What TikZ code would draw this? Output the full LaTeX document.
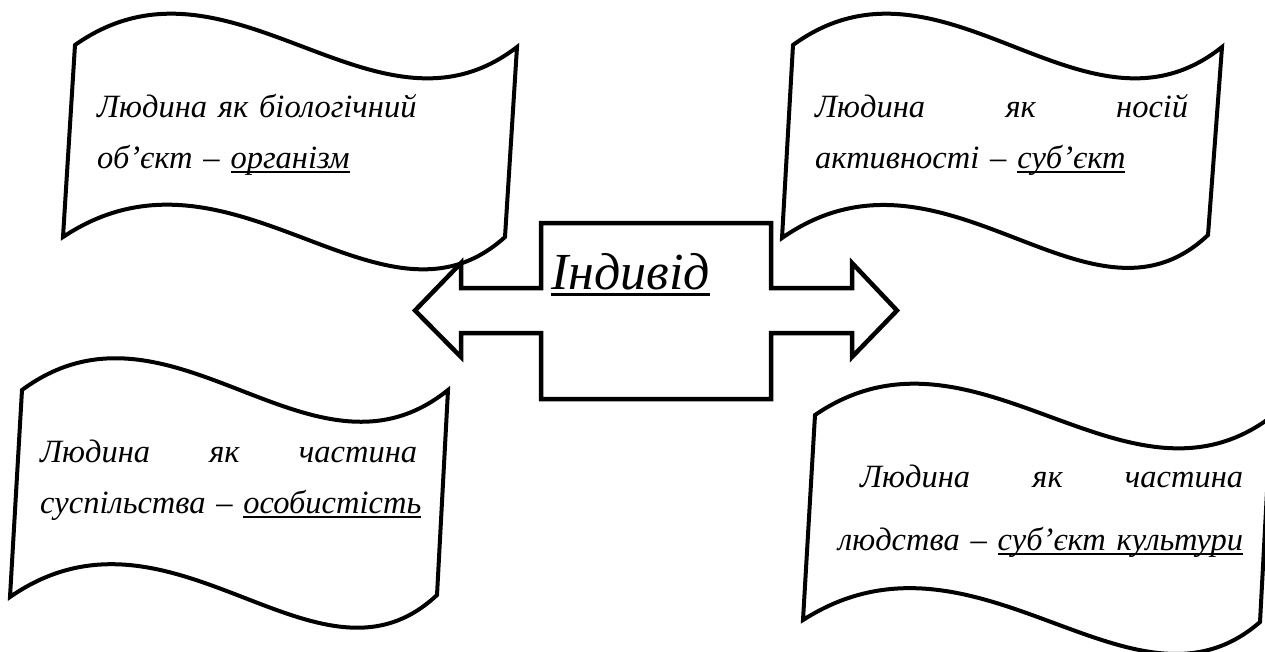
\documentclass[tikz,border=0pt]{standalone}
\usepackage{fontspec}
\setmainfont{Liberation Serif}
\usepackage{tikz}
\usetikzlibrary{calc}
\usetikzlibrary{positioning}

\tikzset{
	outline/.style={draw, line width=4pt, line join=miter},
	arrowline/.style={draw, line width=4.5pt, line join=miter},
	flagtext/.style={anchor=base west, inner sep=0pt, align=left, font=\fontsize{32.5}{51}\selectfont\itshape},
}

% underline close to the baseline
\newcommand\undl[1]{{\setbox0=\hbox{#1}\rlap{\rule[-0.14em]{\wd0}{0.055em}}\box0}}

% wave flag from its corners: top left, top right, bottom right, bottom left
\newcommand\waveflag[4]{
	\draw[outline] (#1) .. controls ($(#1)!0.35!(#2)+(0,-110)$) and ($(#1)!0.68!(#2)+(0,110)$) .. (#2)
		-- (#3) .. controls ($(#4)!0.72!(#3)+(0,112)$) and ($(#4)!0.38!(#3)+(0,-112)$) .. (#4) -- cycle;
}

\begin{document}
\begin{tikzpicture}[x=1pt,y=-1pt]
	\useasboundingbox (0,0) rectangle (1265,651);
	\clip (0,0) rectangle (1265,651);

	% box with the double arrow
	\draw[arrowline]
	(541,223) -- (771,223) -- (771,288) -- (852,288) -- (852,263) -- (897,310.5)
	-- (852,357) -- (852,333) -- (771,333) -- (771,399) -- (541,399) -- (541,333)
	-- (461,333) -- (461,357) -- (415,310.5) -- (461,263) -- (461,288) -- (541,288) -- cycle;
	\node[anchor=base west, inner sep=0pt, font=\fontsize{52}{60}\selectfont\itshape] (indiv) at (551,289) {\undl{Індивід}};

	% corners of the flags
	\coordinate (tl-a) at (75,45);
	\coordinate (tl-b) at (517,47);
	\coordinate (tl-c) at (505,237);
	\coordinate (tl-d) at (63,237);
	\coordinate (tr-a) at (793,45);
	\coordinate (tr-b) at (1222,47);
	\coordinate (tr-c) at (1208,235);
	\coordinate (tr-d) at (782,238);
	\coordinate (bl-a) at (22,390);
	\coordinate (bl-b) at (448,390);
	\coordinate (bl-c) at (437,595);
	\coordinate (bl-d) at (10,597);
	\coordinate (br-a) at (815,415);
	\coordinate (br-b) at (1271,417);
	\coordinate (br-c) at (1260,622);
	\coordinate (br-d) at (803,620);

	\waveflag{tl-a}{tl-b}{tl-c}{tl-d}
	\waveflag{tr-a}{tr-b}{tr-c}{tr-d}
	\waveflag{bl-a}{bl-b}{bl-c}{bl-d}
	\waveflag{br-a}{br-b}{br-c}{br-d}

	\node[flagtext, text width=400pt] (organism) at (97,117)
		{Людина як біологічний\\\mbox{об’єкт – \undl{організм}}};
	\node[flagtext, text width=373pt] (subject) at (815,117)
		{Людина\hfill як\hfill носій\\\mbox{активності – \undl{суб’єкт}}};
	\node[flagtext, text width=377pt] (person) at (40,462)
		{Людина\hfill як\hfill частина\\\mbox{суспільства – \undl{особистість}}};
	\node[flagtext, text width=405pt] (culture) at (838,487)
		{\hspace*{22pt}Людина\hfill як\hfill частина\\[12pt]\mbox{людства – \undl{суб’єкт культури}}};
\end{tikzpicture}
\end{document}
